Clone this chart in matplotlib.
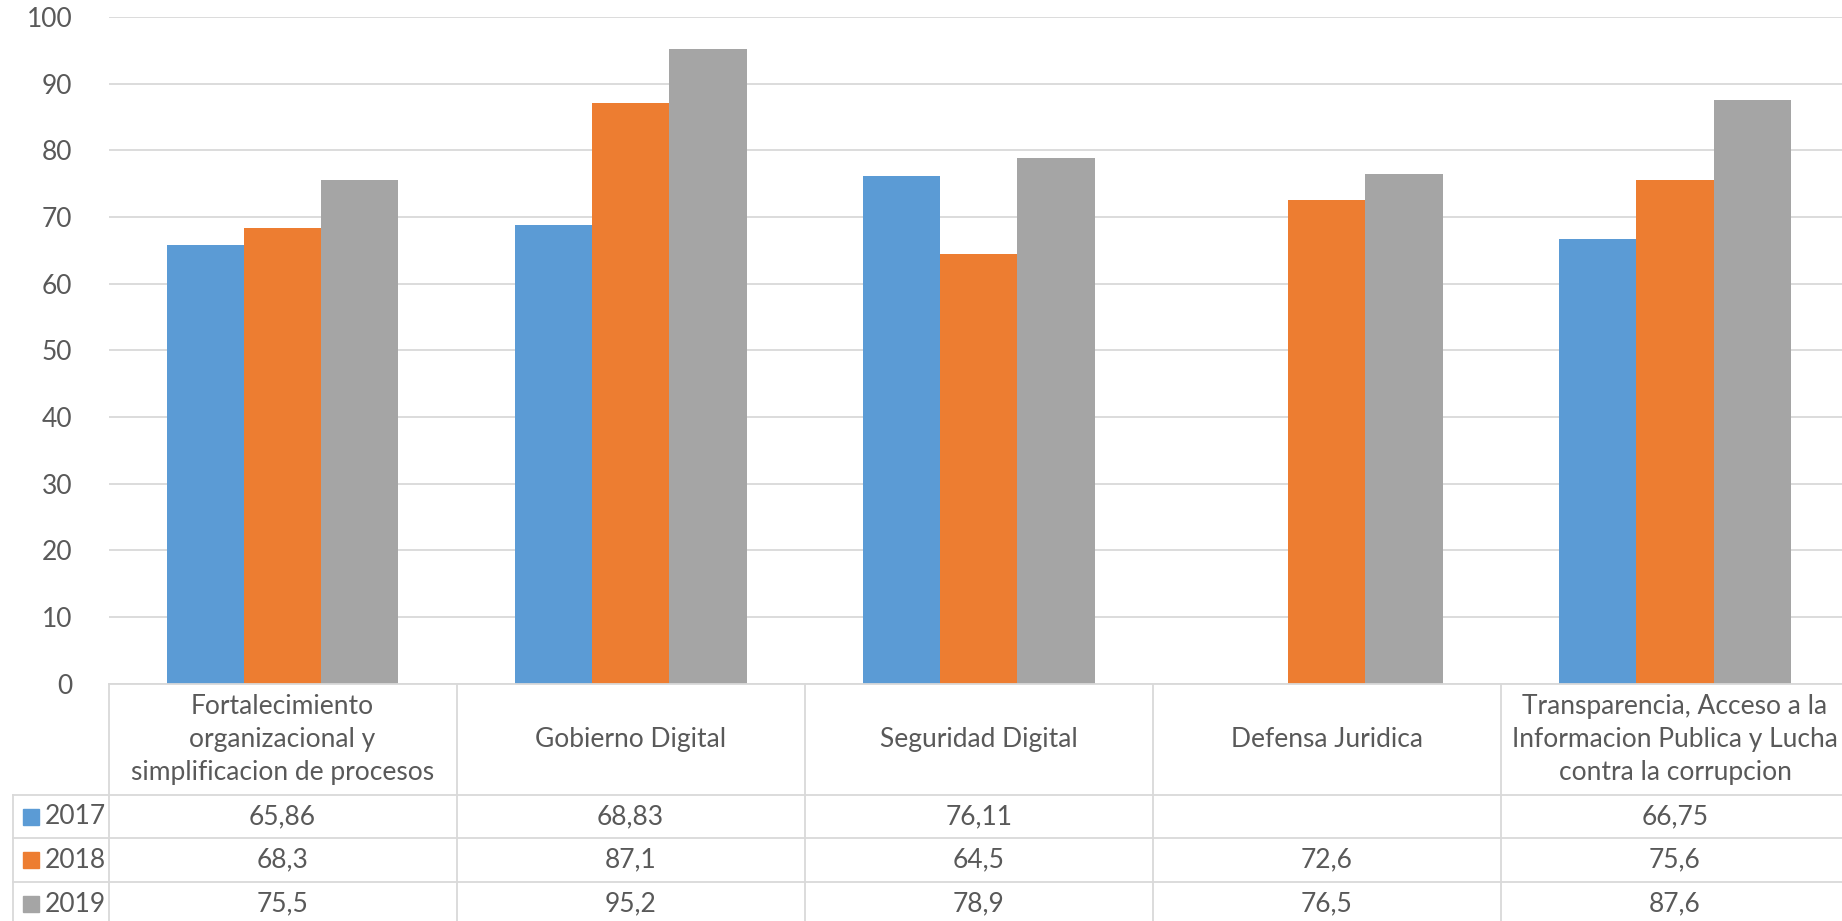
import numpy as np
import matplotlib
matplotlib.use('Agg')
import matplotlib.pyplot as plt
from matplotlib.patches import Rectangle
import matplotlib.transforms as mtransforms

# Datos
categorias = ['Fortalecimiento\norganizacional y\nsimplificacion de procesos',
              'Gobierno Digital',
              'Seguridad Digital',
              'Defensa Juridica',
              'Transparencia, Acceso a la\nInformacion Publica y Lucha\ncontra la corrupcion']
anios = ['2017', '2018', '2019']
v2017 = [65.86, 68.83, 76.11, None, 66.75]
v2018 = [68.3, 87.1, 64.5, 72.6, 75.6]
v2019 = [75.5, 95.2, 78.9, 76.5, 87.6]
colores = ['#5B9BD5', '#ED7D31', '#A5A5A5']
yticks = [0, 10, 20, 30, 40, 50, 60, 70, 80, 90, 100]

plt.rcParams['font.family'] = ['Lato', 'DejaVu Sans']
txt_color = '#595959'
grid_color = '#D9D9D9'
fs = 19

W, H = 1842, 921
fig = plt.figure(figsize=(W / 100, H / 100), dpi=100)
# ejes en pixeles: izquierda 108.5, derecha 1849, arriba 17, abajo 683.5
ax = fig.add_axes([108.5 / W, (H - 683.5) / H, (1849 - 108.5) / W, (683.5 - 17) / H])

series = [v2017, v2018, v2019]
x = np.arange(len(categorias))
ancho = 0.222
for i, vals in enumerate(series):
    alturas = [np.nan if v is None else v for v in vals]
    ax.bar(x + (i - 1) * ancho, alturas, ancho, color=colores[i], linewidth=0, zorder=3)

ax.set_xlim(-0.5, len(categorias) - 0.5)
ax.set_ylim(0, 100)
ax.set_yticks(yticks)
ax.set_yticklabels([str(t) for t in yticks], fontsize=fs, color=txt_color)
ax.tick_params(axis='y', length=0, pad=26)
ax.set_xticks([])
ax.yaxis.grid(True, color=grid_color, linewidth=1.3, zorder=0)
for s in ax.spines.values():
    s.set_visible(False)

# Tabla de datos
trans = mtransforms.blended_transform_factory(ax.transData, ax.transAxes)
def ya(ypix):
    return (683.5 - ypix) / 666.5

filas = [795, 838, 882, 926]
x_leyenda = -0.5 + (13 - 108.5) / 348.1
lw = 1.3

ax.plot([-0.5, 4.6], [0, 0], transform=trans, color=grid_color, lw=lw, clip_on=False, zorder=4)
for b in [-0.5, 0.5, 1.5, 2.5, 3.5]:
    ax.plot([b, b], [0, ya(filas[-1])], transform=trans, color=grid_color, lw=lw, clip_on=False)
ax.plot([x_leyenda, x_leyenda], [ya(filas[0]), ya(filas[-1])], transform=trans,
        color=grid_color, lw=lw, clip_on=False)
for yp in filas[:-1]:
    ax.plot([x_leyenda, 4.6], [ya(yp), ya(yp)], transform=trans, color=grid_color, lw=lw, clip_on=False)

for j, cat in enumerate(categorias):
    ax.text(j, ya((683 + 795) / 2), cat, transform=trans, ha='center', va='center',
            fontsize=fs, color=txt_color, linespacing=1.4)

for i, vals in enumerate(series):
    yc = ya((filas[i] + filas[i + 1]) / 2)
    for j, v in enumerate(vals):
        if v is not None:
            ax.text(j, yc, str(v).replace('.', ','), transform=trans, ha='center', va='center',
                    fontsize=fs, color=txt_color)
    # clave de leyenda
    kx = -0.5 + (23 - 108.5) / 348.1
    ax.add_patch(Rectangle((kx, yc - 8 / 666.5), 16 / 348.1, 16 / 666.5, transform=trans,
                           color=colores[i], clip_on=False))
    ax.text(-0.5 + (45 - 108.5) / 348.1, yc, anios[i], transform=trans, ha='left', va='center',
            fontsize=fs, color=txt_color)

fig.savefig('out.png', dpi=100)
